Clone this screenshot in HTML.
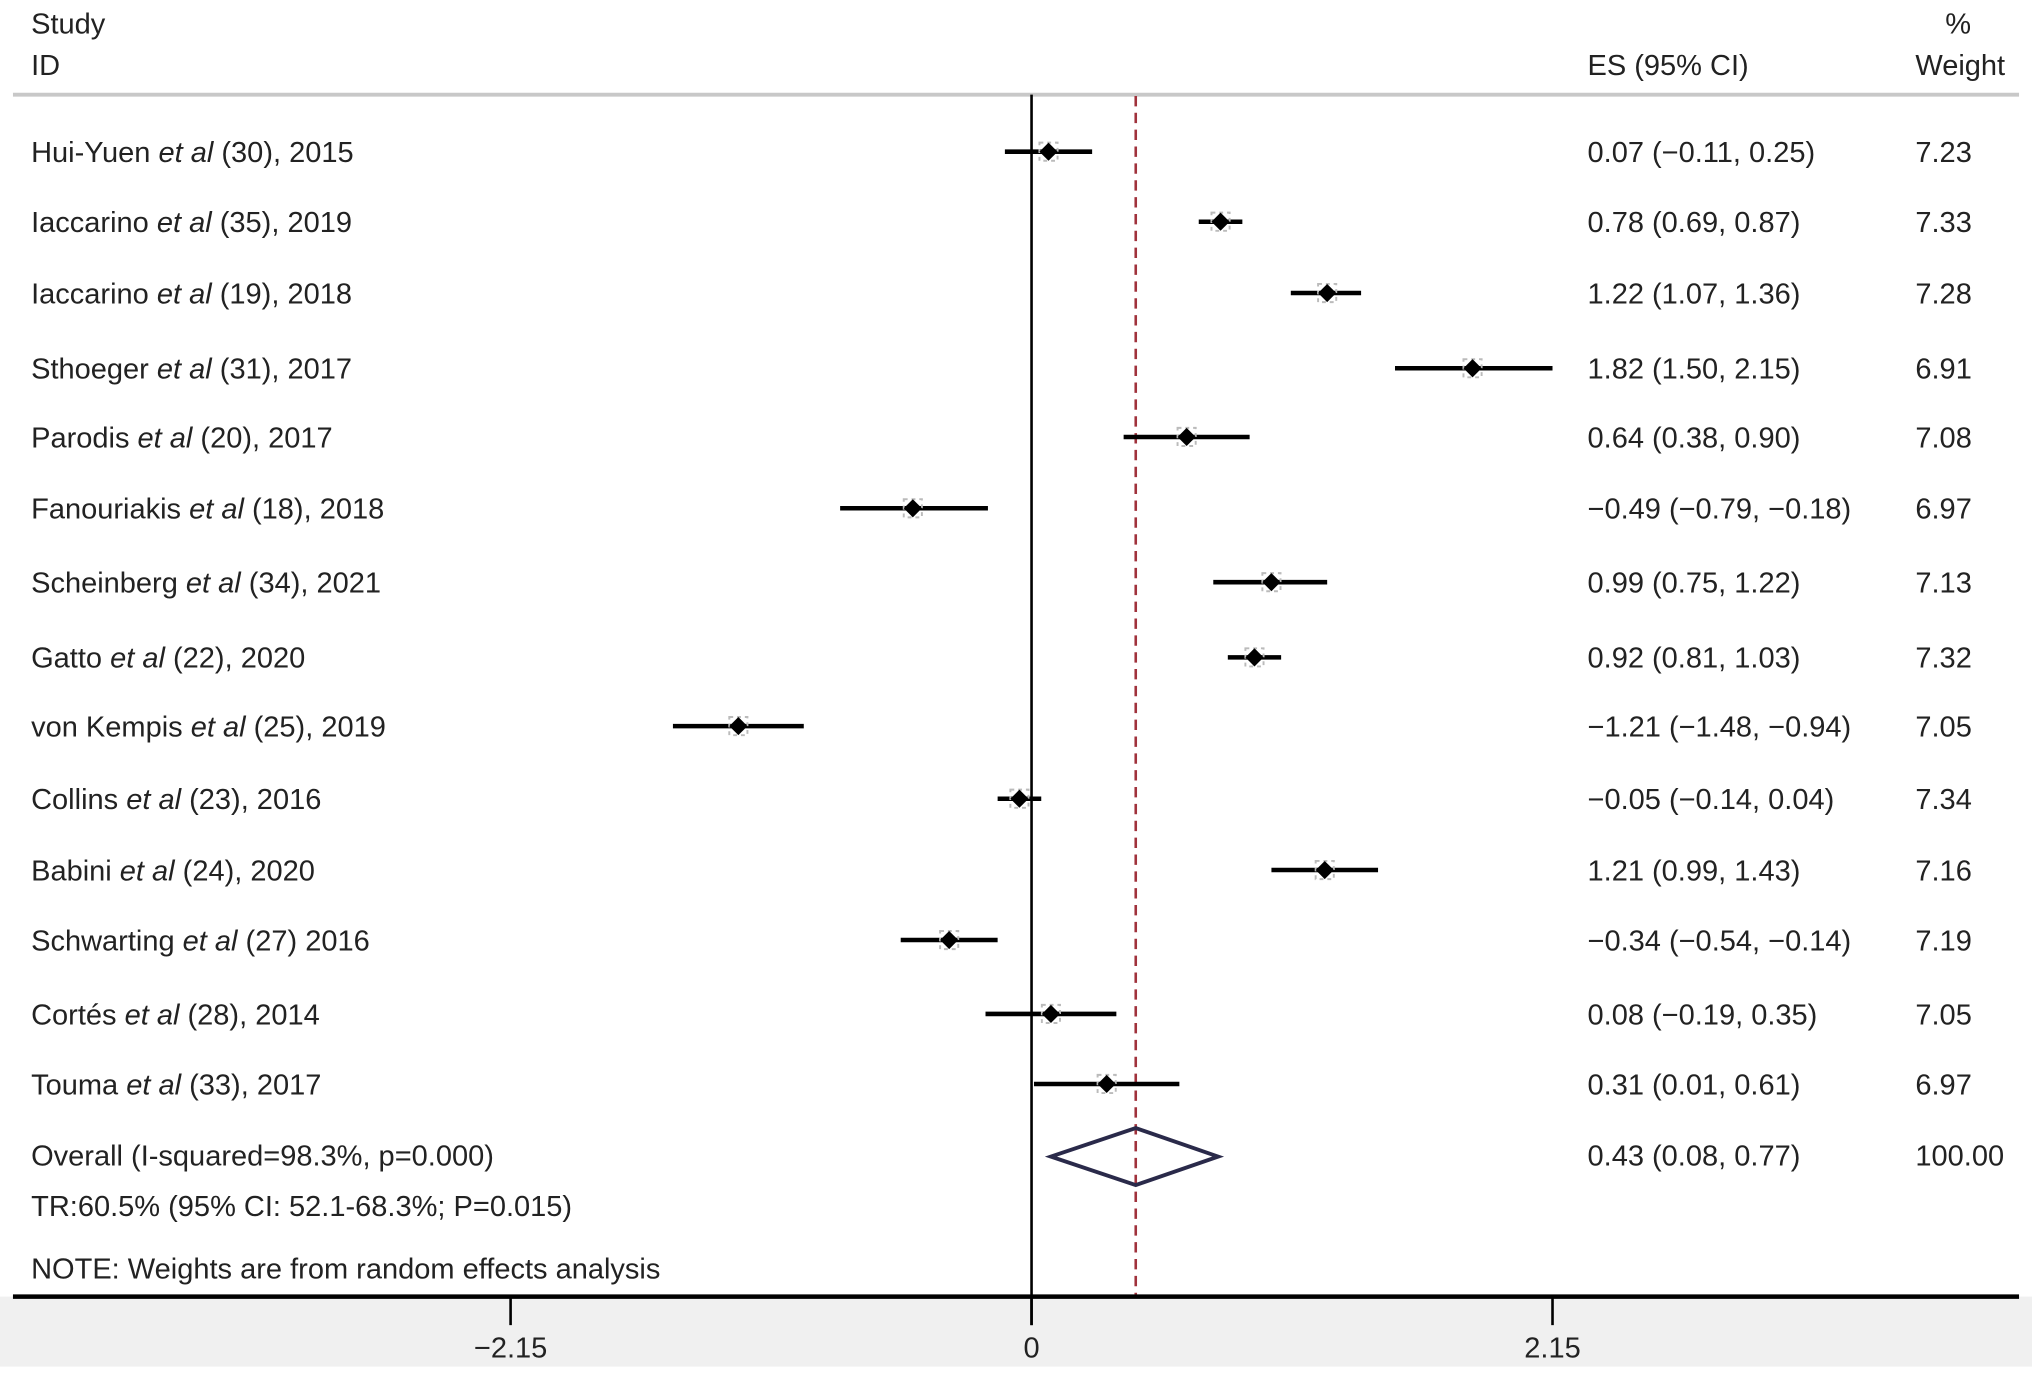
<!DOCTYPE html>
<html><head><meta charset="utf-8"><style>
html,body{margin:0;padding:0;background:#fff;}
svg{display:block;}
text{font-family:"Liberation Sans",sans-serif;font-size:22.4px;fill:#222;}
</style></head><body>
<svg id="chart" width="2032" height="1377" viewBox="0 0 1568 1062" preserveAspectRatio="none" xmlns="http://www.w3.org/2000/svg">
<rect x="0" y="1000" width="1568" height="54" fill="#f0f0f0"/>
<text x="24" y="26">Study</text>
<text x="24" y="58">ID</text>
<text x="1225" y="58">ES (95% CI)</text>
<text x="1521" y="26" text-anchor="end">%</text>
<text x="1478" y="58">Weight</text>
<line x1="10" y1="73" x2="1558" y2="73" stroke="#c8c8c8" stroke-width="3"/>
<g id="marks"></g>
<text x="24" y="899">Overall (I-squared=98.3%, p=0.000)</text>
<text x="1225" y="899">0.43 (0.08, 0.77)</text>
<text x="1478" y="899">100.00</text>
<text x="24" y="938">TR:60.5% (95% CI: 52.1-68.3%; P=0.015)</text>
<text x="24" y="986">NOTE: Weights are from random effects analysis</text>
</svg>
<script>
const studies=["Hui-Yuen|(30), 2015","Iaccarino|(35), 2019","Iaccarino|(19), 2018","Sthoeger|(31), 2017","Parodis|(20), 2017","Fanouriakis|(18), 2018","Scheinberg|(34), 2021","Gatto|(22), 2020","von Kempis|(25), 2019","Collins|(23), 2016","Babini|(24), 2020","Schwarting|(27) 2016","Cortés|(28), 2014","Touma|(33), 2017"];
const es=[0.07,0.78,1.22,1.82,0.64,-0.49,0.99,0.92,-1.21,-0.05,1.21,-0.34,0.08,0.31];
const lo=[-0.11,0.69,1.07,1.50,0.38,-0.79,0.75,0.81,-1.48,-0.14,0.99,-0.54,-0.19,0.01];
const hi=[0.25,0.87,1.36,2.15,0.90,-0.18,1.22,1.03,-0.94,0.04,1.43,-0.14,0.35,0.61];
const weights=["7.23","7.33","7.28","6.91","7.08","6.97","7.13","7.32","7.05","7.34","7.16","7.19","7.05","6.97"];
const overall=[0.43,0.08,0.77];
const ticks=[-2.15,0,2.15];
const tickLabels=["\u22122.15","0","2.15"];
const rowY=[117,171,226,284,337,392,449,507,560,616,671,725,782,836];
const overallY=892;
const X=v=>796+v*(1198-796)/2.15;
const fmt=v=>(v<0?"\u2212":"")+Math.abs(v).toFixed(2);
const NS="http://www.w3.org/2000/svg";
const g=document.getElementById('marks');
function mk(tag,attrs,parent){const e=document.createElementNS(NS,tag);for(const k in attrs)e.setAttribute(k,attrs[k]);(parent||g).appendChild(e);return e;}
let e=mk('line',{x1:X(0),y1:73,x2:X(0),y2:1022,stroke:'#000','stroke-width':2});


e=mk('line',{x1:X(overall[0]),y1:74,x2:X(overall[0]),y2:1000,stroke:'#a0323c','stroke-width':2,'stroke-dasharray':'8,5'});


studies.forEach((s,i)=>{
  const y=rowY[i];const [nm,rest]=s.split('|');
  const t=mk('text',{x:24,y:y+8});
  
  
  t.innerHTML=nm+' <tspan font-style="italic">et al</tspan> '+rest;
  const t2=mk('text',{x:1225,y:y+8});
  
  
  t2.textContent=es[i].toFixed(2).replace('-','\u2212')+' ('+fmt(lo[i])+', '+fmt(hi[i])+')';
  const t3=mk('text',{x:1478,y:y+8});
  
  
  t3.textContent=weights[i];
  const l=mk('line',{x1:X(lo[i]),y1:y,x2:X(hi[i]),y2:y,stroke:'#000','stroke-width':3.5});
  
  
  const b=mk('rect',{x:X(es[i])-7,y:y-7,width:14,height:14,fill:'none',stroke:'#bbb','stroke-width':1.5,'stroke-dasharray':'3,3'});
  
  
  const cx=X(es[i]);
  const d=mk('polygon',{points:`${cx},${y-7} ${cx+7},${y} ${cx},${y+7} ${cx-7},${y}`,fill:'#000'});
  
  
});
const ox=X(overall[0]),ol=X(overall[1]),oh=X(overall[2]);
e=mk('polygon',{points:`${ol},${overallY} ${ox},${overallY-22} ${oh},${overallY} ${ox},${overallY+22}`,fill:'none',stroke:'#2a2a4a','stroke-width':3});


e=mk('line',{x1:10,y1:1000,x2:1558,y2:1000,stroke:'#000','stroke-width':3.5});


ticks.forEach((v,i)=>{
  const tk=mk('line',{x1:X(v),y1:1000,x2:X(v),y2:1022,stroke:'#000','stroke-width':2});
  
  
  const tl=mk('text',{x:X(v),y:1047,'text-anchor':'middle'});
  
  
  tl.textContent=tickLabels[i];
});
</script>
</body></html>
